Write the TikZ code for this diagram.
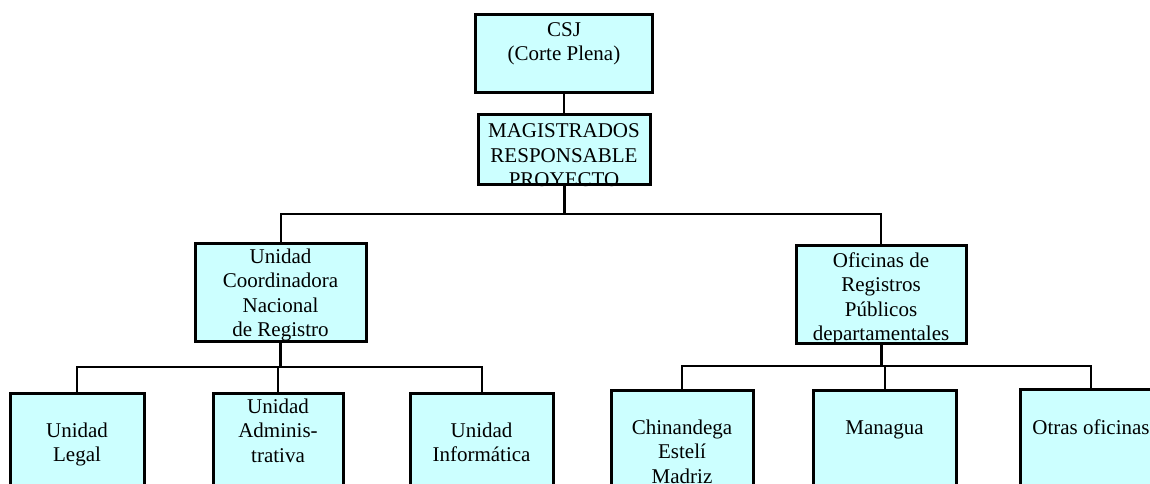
\documentclass[tikz,border=0pt]{standalone}
\usepackage{fontspec}
\setmainfont{Liberation Serif}
\definecolor{boxfill}{HTML}{CCFFFF}
\tikzset{
  orgbox/.style={draw=black, fill=boxfill, line width=3pt, inner sep=0pt, rectangle},
  lbl/.style={anchor=north, inner sep=0pt, align=center, font=\fontsize{21}{24.5}\selectfont},
  conn/.style={draw=black, line width=2pt},
  stem/.style={draw=black, line width=3pt},
}
\begin{document}
\begin{tikzpicture}[x=1pt,y=-1pt]
\useasboundingbox (0,0) rectangle (1150,484);
\clip (0,0) rectangle (1150,484);
% boxes
\node[orgbox, minimum width=177pt, minimum height=78pt] (csj) at (564,54) {};
\node[orgbox, minimum width=172pt, minimum height=69pt] (mag) at (564,149.5) {};
\node[orgbox, minimum width=171pt, minimum height=98pt] (ucn) at (280.5,292) {};
\node[orgbox, minimum width=170pt, minimum height=98pt] (ofi) at (881,294) {};
\node[orgbox, minimum width=134pt, minimum height=120pt] (legal) at (77,453) {};
\node[orgbox, minimum width=130pt, minimum height=120pt] (admin) at (278,453) {};
\node[orgbox, minimum width=143pt, minimum height=120pt] (info) at (481.5,453) {};
\node[orgbox, minimum width=142pt, minimum height=120pt] (chin) at (682,450) {};
\node[orgbox, minimum width=143pt, minimum height=120pt] (mana) at (884.5,450) {};
\node[orgbox, minimum width=142pt, minimum height=120pt] (otras) at (1091,449) {};
% texts (north = first baseline - strut height)
\node[lbl] (tcsj) at (564,18.85) {\strut CSJ\\(Corte Plena)};
\node[lbl] (tmag) at (564,120.35) {\strut MAGISTRADOS\\RESPONSABLE\\PROYECTO};
\node[lbl] (tucn) at (280.5,245.85) {\strut Unidad\\Coordinadora\\Nacional\\de Registro};
\node[lbl] (tofi) at (881,249.85) {\strut Oficinas de\\Registros\\Públicos\\departamentales};
\node[lbl] (tlegal) at (77,419.85) {\strut Unidad\\Legal};
\node[lbl] (tadmin) at (278,395.85) {\strut Unidad\\Adminis-\\trativa};
\node[lbl] (tinfo) at (481.5,419.85) {\strut Unidad\\Informática};
\node[lbl] (tchin) at (682,416.85) {\strut Chinandega\\Estelí\\Madriz};
\node[lbl] (tmana) at (884.5,416.85) {\strut Managua};
\node[lbl] (totras) at (1091,416.85) {\strut Otras oficinas};
% junctions
\coordinate (j1) at (564,214);
\coordinate (j2) at (280.5,367);
\coordinate (j3) at (881,366);
% connectors
\draw[conn] (csj.south) -- (mag.north);
\draw[stem] (mag.south) -- (j1);
\draw[conn] (ucn.north) |- (j1) -| (ofi.north);
\draw[stem] (ucn.south) -- (j2);
\draw[conn] (legal.north) |- (j2) -| (info.north);
\draw[conn] (admin.north) -- (admin.north |- j2);
\draw[stem] (ofi.south) -- (j3);
\draw[conn] (chin.north) |- (j3) -| (otras.north);
\draw[conn] (mana.north) -- (mana.north |- j3);
\end{tikzpicture}
\end{document}
